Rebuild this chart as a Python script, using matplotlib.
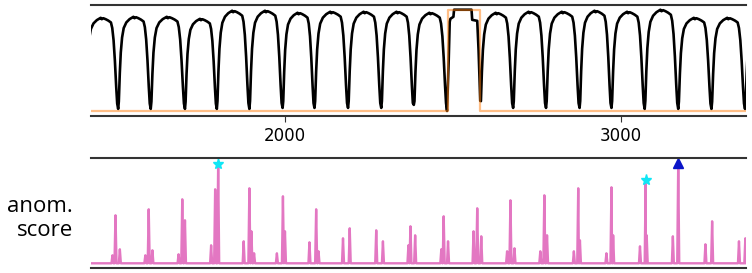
import matplotlib
matplotlib.use("Agg")
import matplotlib.pyplot as plt

# ---------------- data ----------------
x_range = [1422, 3373]
tick_values = [2000, 3000]
tick_labels = ["2000", "3000"]

# positions / depths of the signal minima (first and last lie outside the view)
dip_x = [1405, 1503, 1600, 1702, 1797, 1894, 1993, 2088, 2188, 2287, 2384,
         2483, 2582, 2680, 2778, 2878, 2973, 3072, 3172, 3271, 3371, 3469]
dip_y = [0.02, 0.02, 0.02, 0.02, 0.02, 0.02, 0.03, 0.03, 0.03, 0.03, 0.06,
         0.00, 0.10, 0.03, 0.03, 0.03, 0.03, 0.02, 0.02, 0.02, 0.02, 0.02]
# plateau height of each cycle between two minima (None = anomalous cycle)
cycle_peak = [0.92, 0.93, 0.93, 0.91, 0.99, 0.99, 0.97, 0.98, 0.98, 0.98, 0.97,
              None, 0.97, 0.98, 0.98, 0.99, 0.98, 1.00, 0.92, 0.92, 0.92]
# shape of one normal cycle (fraction of cycle, relative height)
cycle_frac = [0.02, 0.05, 0.08, 0.12, 0.17, 0.25, 0.35, 0.42, 0.47, 0.50,
              0.55, 0.62, 0.70, 0.78, 0.82, 0.86, 0.90, 0.94, 0.97]
cycle_shape = [0.10, 0.40, 0.62, 0.78, 0.88, 0.94, 0.975, 0.99, 1.00, 0.985,
               0.995, 0.985, 0.97, 0.95, 0.89, 0.76, 0.54, 0.26, 0.08]
# the anomalous cycle
anom_x = [2488, 2491, 2493, 2502, 2504, 2556, 2558, 2573, 2577]
anom_y = [0.50, 0.88, 0.91, 0.93, 1.00, 1.00, 0.90, 0.89, 0.60]

# ground-truth label
label_x = [1422, 2486, 2486, 2582, 2582, 3373]
label_y = [0, 0, 1, 1, 0, 0]

# anomaly-score spikes
spike_x = [1486, 1495, 1508, 1584, 1594, 1605, 1683, 1694, 1702,
           1780, 1792, 1801, 1877, 1894, 1900, 1908, 1976, 1994, 2000,
           2073, 2093, 2100, 2173, 2193, 2272, 2292, 2368, 2374, 2388,
           2466, 2473, 2486, 2562, 2573, 2585, 2662, 2672, 2684,
           2761, 2773, 2781, 2861, 2874, 2879, 2958, 2973, 2978,
           3058, 3075, 3078, 3156, 3172, 3253, 3273, 3353, 3372]
spike_h = [0.08, 0.48, 0.14, 0.08, 0.54, 0.13, 0.09, 0.64, 0.43,
           0.18, 0.74, 0.99, 0.22, 0.75, 0.32, 0.10, 0.10, 0.67, 0.32,
           0.21, 0.54, 0.12, 0.25, 0.35, 0.33, 0.22, 0.18, 0.37, 0.28,
           0.14, 0.47, 0.22, 0.32, 0.55, 0.27, 0.12, 0.63, 0.15,
           0.12, 0.68, 0.28, 0.12, 0.75, 0.23, 0.10, 0.76, 0.28,
           0.17, 0.83, 0.28, 0.27, 1.00, 0.19, 0.42, 0.22, 0.25]

star_x = [1801, 3075]
star_y = [0.99, 0.83]
tri_x = [3172]
tri_y = [1.00]

# ---------------- build line vertices ----------------
sig_x, sig_y = [], []
for i, pk in enumerate(cycle_peak):
    sig_x.append(dip_x[i]); sig_y.append(dip_y[i])
    if pk is None:
        sig_x.extend(anom_x); sig_y.extend(anom_y)
    else:
        span = dip_x[i + 1] - dip_x[i]
        for f, v in zip(cycle_frac, cycle_shape):
            sig_x.append(dip_x[i] + f * span)
            sig_y.append(v * pk)
sig_x.append(dip_x[-1]); sig_y.append(dip_y[-1])

hw = 3
verts = [(x_range[0], 0.0)]
for sx, sh in zip(spike_x, spike_h):
    verts += [(sx - hw, 0.0), (sx, sh), (sx + hw, 0.0)]
verts.append((x_range[1], 0.0))
verts.sort(key=lambda p: p[0])
score_x = [p[0] for p in verts]
score_y = [p[1] for p in verts]

# ---------------- draw ----------------
fig = plt.figure(figsize=(7.52, 2.73), dpi=100)
ax1 = fig.add_axes([0.121, 0.575, 0.8706, 0.408])
ax2 = fig.add_axes([0.121, 0.0172, 0.8706, 0.403])

ax1.plot(sig_x, sig_y, color="black", lw=1.9)
ax1.plot(label_x, label_y, color="tab:orange", alpha=0.5, lw=1.6)

ax2.plot(score_x, score_y, color="#e377c2", lw=1.7)
ax2.plot(star_x, star_y, ls="none", marker="*", ms=8, color="#10e6f5")
ax2.plot(tri_x, tri_y, ls="none", marker="^", ms=7, color="#0a14c8")

for ax in (ax1, ax2):
    ax.set_xlim(*x_range)
    ax.set_ylim(-0.05, 1.05)
    ax.set_yticks([])
    for s in ("left", "right"):
        ax.spines[s].set_visible(False)
    for s in ("top", "bottom"):
        ax.spines[s].set_color("#333333")
        ax.spines[s].set_linewidth(1.5)

ax1.set_xticks(tick_values)
ax1.set_xticklabels(tick_labels, fontsize=12)
ax1.tick_params(axis="x", length=4, color="#333333", pad=4)
ax2.set_xticks([])

fig.text(0.097, 0.20, "anom.\nscore", ha="right", va="center",
         multialignment="right", fontsize=16, family="Open Sans",
         linespacing=1.15)

fig.savefig("out.png", dpi=100)
